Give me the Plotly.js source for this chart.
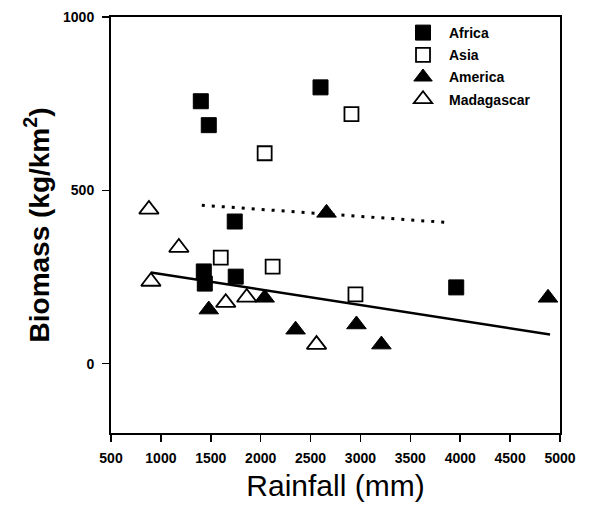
<!DOCTYPE html>
<html>
<head>
<meta charset="utf-8">
<script src="https://cdn.plot.ly/plotly-3.0.1.min.js"></script>
<style>html,body{margin:0;padding:0;background:#fff;}#chart{width:590px;height:507px;}</style>
</head>
<body>
<div id="chart"></div>
<script>
// Data
const africaX = [1400, 1480, 1740, 1430, 1440, 1750, 2600, 3960];
const africaY = [757, 688, 410, 266, 231, 251, 797, 220];
const asiaX = [2040, 2910, 1600, 2120, 2950];
const asiaY = [607, 720, 306, 280, 200];
const americaX = [2660, 1480, 2040, 2350, 2960, 3210, 4880];
const americaY = [435, 156, 190, 98, 113, 55, 190];
const madaX = [880, 1180, 900, 1650, 1860, 2560];
const madaY = [445, 335, 237, 176, 191, 55];
const solidFitX = [900, 4900];
const solidFitY = [263, 84];
const dottedFitX = [1410, 3880];
const dottedFitY = [457, 407];
const xTicks = [500, 1000, 1500, 2000, 2500, 3000, 3500, 4000, 4500, 5000];
const yTicks = [0, 500, 1000];

const FONT = 'Liberation Sans, Arial, sans-serif';

const traces = [
  {x: solidFitX, y: solidFitY, mode: 'lines', line: {color: '#000', width: 2.5}, showlegend: false, hoverinfo: 'skip'},
  {x: dottedFitX, y: dottedFitY, mode: 'lines', line: {color: '#000', width: 3, dash: '3px,7px'}, showlegend: false, hoverinfo: 'skip'},
  {x: africaX, y: africaY, mode: 'markers', name: 'Africa', legendgroup: 'a',
   marker: {symbol: 'square', size: 15, color: '#000', line: {color: '#000', width: 1}}},
  {x: asiaX, y: asiaY, mode: 'markers', name: 'Asia', legendgroup: 'b',
   marker: {symbol: 'square-open', size: 14, color: '#000', line: {color: '#000', width: 1.8}}},
  {x: americaX, y: americaY, mode: 'markers', name: 'America', legendgroup: 'c',
   marker: {symbol: 'triangle-up', size: 17, color: '#000', line: {color: '#000', width: 1}}},
  {x: madaX, y: madaY, mode: 'markers', name: 'Madagascar', legendgroup: 'd',
   marker: {symbol: 'triangle-up-open', size: 17, color: '#000', line: {color: '#000', width: 1.8}}}
];

const layout = {
  width: 590, height: 507,
  margin: {l: 111, r: 30, t: 17, b: 74},
  paper_bgcolor: '#fff', plot_bgcolor: '#fff',
  font: {family: FONT, color: '#000'},
  showlegend: true,
  legend: {x: 0.637, y: 1.0, xanchor: 'left', yanchor: 'top', bgcolor: 'rgba(0,0,0,0)',
           font: {size: 14, family: FONT, weight: 'bold'}, itemwidth: 42,
           traceorder: 'grouped', tracegroupgap: 1},
  xaxis: {
    range: [500, 5000], tickvals: xTicks, ticktext: xTicks.map(String),
    showgrid: false, zeroline: false, showline: true, linecolor: '#000', linewidth: 2, mirror: true,
    ticks: 'outside', ticklen: 7, tickwidth: 1.5, tickcolor: '#000', ticklabelstandoff: 4,
    tickfont: {size: 14, family: FONT, weight: 'bold'},
    title: {text: 'Rainfall (mm)', font: {size: 30, family: FONT}, standoff: 10}
  },
  yaxis: {
    range: [-200, 1000], tickvals: yTicks, ticktext: yTicks.map(String),
    showgrid: false, zeroline: false, showline: true, linecolor: '#000', linewidth: 2, mirror: true,
    ticks: 'outside', ticklen: 7, tickwidth: 1.5, tickcolor: '#000', ticklabelstandoff: 5,
    tickfont: {size: 14, family: FONT, weight: 'bold'},
    title: {text: 'Biomass (kg/km<sup>2</sup>)', font: {size: 28, family: FONT, weight: 'bold'}, standoff: 5}
  }
};

Plotly.newPlot('chart', traces, layout, {displayModeBar: false, staticPlot: true});
</script>
</body>
</html>
